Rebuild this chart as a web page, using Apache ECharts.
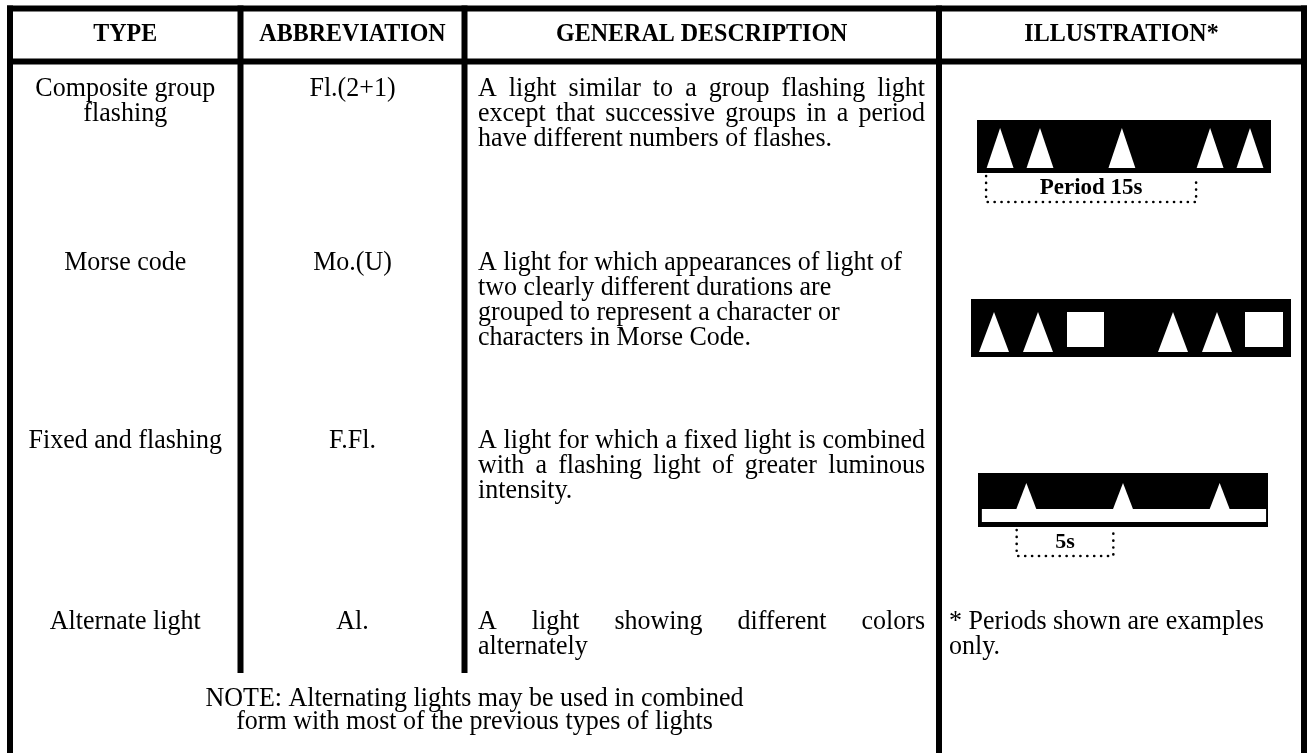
<!DOCTYPE html>
<html>
<head>
<meta charset="utf-8">
<script src="https://cdn.jsdelivr.net/npm/echarts@6/dist/echarts.min.js"></script>
<style>
  html, body { margin: 0; padding: 0; background: #fff; }
  #main { width: 1308px; height: 753px; }
</style>
</head>
<body>
<div id="main"></div>
<script>
var headers = ['TYPE', 'ABBREVIATION', 'GENERAL DESCRIPTION', 'ILLUSTRATION*'];
var types = [['Composite group', 'flashing'], ['Morse code'], ['Fixed and flashing'], ['Alternate light']];
var abbreviations = ['Fl.(2+1)', 'Mo.(U)', 'F.Fl.', 'Al.'];
var descriptions = [
  ['A light similar to a group flashing light', 'except that successive groups in a period', 'have different numbers of flashes.'],
  ['A light for which appearances of light of', 'two clearly different durations are', 'grouped to represent a character or', 'characters in Morse Code.'],
  ['A light for which a fixed light is combined', 'with a flashing light of greater luminous', 'intensity.'],
  ['A light showing different colors', 'alternately']
];
var justifyDesc = [true, false, true, true];
var footnote = ['* Periods shown are examples', 'only.'];
var noteLines = ['NOTE: Alternating lights may be used in combined', 'form with most of the previous types of lights'];

// illustrations, time in seconds along each bar
var compositeFlashes = [1.65, 4.5, 10.35, 16.65, 19.5];
var compositePeriod = [0.65, 15.65];
var compositeLabel = 'Period 15s';
var morseShort = [1.15, 3.35, 10.1, 12.3];
var morseLong = [[4.8, 6.65], [13.7, 15.6]];
var fixedFlashes = [2.5, 7.5, 12.5];
var fixedPeriod = [2, 7];
var fixedLabel = '5s';

// layout
var W = 1308, H = 753;
var colLines = [10, 240.5, 464.5, 939, 1304];
var lineW = 6;
var topLine = 8.5, headerLine = 61.5, bodyEnd = 673;
var headerBase = 42;
var rowBase = [97, 271, 449, 630];
var lineGap = 25;
var noteBase = [707, 730];
var descLeft = 478, descRight = 925, footLeft = 949;
var textStretch = 1.06;
var serif = '"Liberation Serif", "Times New Roman", serif';

var measure = document.createElement('canvas').getContext('2d');
function fontOf(size, weight) { return weight + ' ' + size + 'px ' + serif; }
function colCenter(i) { return (colLines[i] + colLines[i + 1]) / 2; }

var cells = [];
function addText(text, x, base, size, weight, align) {
  cells.push({ text: text, x: x, base: base, size: size, weight: weight, align: align });
}
function addJustified(text, left, right, base, size) {
  var words = text.split(' ');
  measure.font = fontOf(size, 'normal');
  var widths = words.map(function (w) { return measure.measureText(w).width; });
  var total = widths.reduce(function (a, b) { return a + b; }, 0);
  var gap = (right - left - total) / (words.length - 1);
  var x = left;
  for (var i = 0; i < words.length; i++) {
    addText(words[i], x, base, size, 'normal', 'left');
    x += widths[i] + gap;
  }
}

headers.forEach(function (h, i) { addText(h, colCenter(i), headerBase, 24, 'bold', 'center'); });
rowBase.forEach(function (b, r) {
  types[r].forEach(function (t, k) { addText(t, colCenter(0), b + k * lineGap, 26, 'normal', 'center'); });
  addText(abbreviations[r], colCenter(1), b, 26, 'normal', 'center');
  var lines = descriptions[r];
  lines.forEach(function (line, k) {
    if (justifyDesc[r] && k < lines.length - 1) addJustified(line, descLeft, descRight, b + k * lineGap, 26);
    else addText(line, descLeft, b + k * lineGap, 26, 'normal', 'left');
  });
});
footnote.forEach(function (t, k) { addText(t, footLeft, rowBase[3] + k * lineGap, 26, 'normal', 'left'); });
noteLines.forEach(function (t, k) { addText(t, (colLines[0] + colLines[3]) / 2, noteBase[k], 26, 'normal', 'center'); });

// border segments: [x0, y0, x1, y1]
var half = lineW / 2;
var borders = [
  [colLines[0] - half, topLine - half, colLines[4] + half, topLine + half],
  [colLines[0] - half, headerLine - half, colLines[4] + half, headerLine + half],
  [colLines[0] - half, topLine - half, colLines[0] + half, H],
  [colLines[1] - half, topLine - half, colLines[1] + half, bodyEnd],
  [colLines[2] - half, topLine - half, colLines[2] + half, bodyEnd],
  [colLines[3] - half, topLine - half, colLines[3] + half, H],
  [colLines[4] - half, topLine - half, colLines[4] + half, H]
];

function rectItem(params, api) {
  var a = api.coord([api.value(0), api.value(1)]);
  var b = api.coord([api.value(2), api.value(3)]);
  return {
    type: 'rect',
    shape: { x: Math.min(a[0], b[0]), y: Math.min(a[1], b[1]), width: Math.abs(b[0] - a[0]), height: Math.abs(b[1] - a[1]) },
    style: { fill: api.style().fill }
  };
}

function textItem(params, api) {
  var c = cells[params.dataIndex];
  var p = api.coord([c.x, c.base]);
  return {
    type: 'text',
    scaleY: textStretch,
    originX: p[0],
    originY: p[1],
    style: {
      text: c.text, x: p[0], y: p[1] - 0.305 * c.size,
      font: fontOf(c.size, c.weight), fill: '#000',
      align: c.align, verticalAlign: 'middle'
    }
  };
}

function triangleItem(halfW, y0, y1) {
  return function (params, api) {
    var t = api.value(0);
    return {
      type: 'polygon',
      shape: { points: [api.coord([t, y1]), api.coord([t - halfW, y0]), api.coord([t + halfW, y0])] },
      style: { fill: '#fff' }
    };
  };
}

function bracketItem(label, labelSize) {
  return function (params, api) {
    var a = api.coord([api.value(0), 0]);
    var b = api.coord([api.value(1), 0]);
    var top = a[1] + 3, bot = a[1] + 29;
    return {
      type: 'group',
      children: [
        {
          type: 'polyline',
          shape: { points: [[a[0], top], [a[0], bot], [b[0], bot], [b[0], top]] },
          style: { stroke: '#000', fill: null, lineWidth: 2.6, lineDash: [0.1, 6.8], lineCap: 'round' }
        },
        {
          type: 'text',
          style: {
            text: label, x: (a[0] + b[0]) / 2, y: a[1] + 22 - 0.305 * labelSize,
            font: fontOf(labelSize, 'bold'), fill: '#000', align: 'center', verticalAlign: 'middle'
          }
        }
      ]
    };
  };
}

function hiddenX(i, max) { return { type: 'value', gridIndex: i, min: 0, max: max, show: false }; }
function hiddenY(i, max, inverse) { return { type: 'value', gridIndex: i, min: 0, max: max, inverse: !!inverse, show: false }; }

var option = {
  animation: false,
  backgroundColor: '#fff',
  grid: [
    { left: 0, top: 0, width: W, height: H },
    { left: 977, top: 120, width: 294, height: 53 },
    { left: 971, top: 299, width: 320, height: 58 },
    { left: 978, top: 473, width: 290, height: 54 }
  ],
  xAxis: [hiddenX(0, W), hiddenX(1, 21), hiddenX(2, 16), hiddenX(3, 15)],
  yAxis: [hiddenY(0, H, true), hiddenY(1, 1), hiddenY(2, 1), hiddenY(3, 1)],
  series: [
    { type: 'custom', xAxisIndex: 0, yAxisIndex: 0, data: borders, renderItem: rectItem, itemStyle: { color: '#000' } },
    { type: 'custom', xAxisIndex: 0, yAxisIndex: 0, data: cells.map(function (c, i) { return [i]; }), renderItem: textItem },

    // composite group flashing
    { type: 'custom', xAxisIndex: 1, yAxisIndex: 1, data: [[0, 0, 21, 1]], renderItem: rectItem, itemStyle: { color: '#000' } },
    { type: 'custom', xAxisIndex: 1, yAxisIndex: 1, data: compositeFlashes.map(function (t) { return [t]; }), renderItem: triangleItem(0.96, 0.094, 0.85) },
    { type: 'custom', xAxisIndex: 1, yAxisIndex: 1, data: [compositePeriod], renderItem: bracketItem(compositeLabel, 23) },

    // morse code
    { type: 'custom', xAxisIndex: 2, yAxisIndex: 2, data: [[0, 0, 16, 1]], renderItem: rectItem, itemStyle: { color: '#000' } },
    { type: 'custom', xAxisIndex: 2, yAxisIndex: 2, data: morseShort.map(function (t) { return [t]; }), renderItem: triangleItem(0.75, 0.086, 0.776) },
    { type: 'custom', xAxisIndex: 2, yAxisIndex: 2, data: morseLong.map(function (d) { return [d[0], 0.172, d[1], 0.776]; }), renderItem: rectItem, itemStyle: { color: '#fff' } },

    // fixed and flashing
    { type: 'custom', xAxisIndex: 3, yAxisIndex: 3, data: [[0, 0, 15, 1]], renderItem: rectItem, itemStyle: { color: '#000' } },
    { type: 'custom', xAxisIndex: 3, yAxisIndex: 3, data: [[0.2, 0.093, 14.9, 0.333]], renderItem: rectItem, itemStyle: { color: '#fff' } },
    { type: 'custom', xAxisIndex: 3, yAxisIndex: 3, data: fixedFlashes.map(function (t) { return [t]; }), renderItem: triangleItem(0.55, 0.3, 0.815) },
    { type: 'custom', xAxisIndex: 3, yAxisIndex: 3, data: [fixedPeriod], renderItem: bracketItem(fixedLabel, 22) }
  ]
};

var chart = echarts.init(document.getElementById('main'));
chart.setOption(option);
</script>
</body>
</html>
